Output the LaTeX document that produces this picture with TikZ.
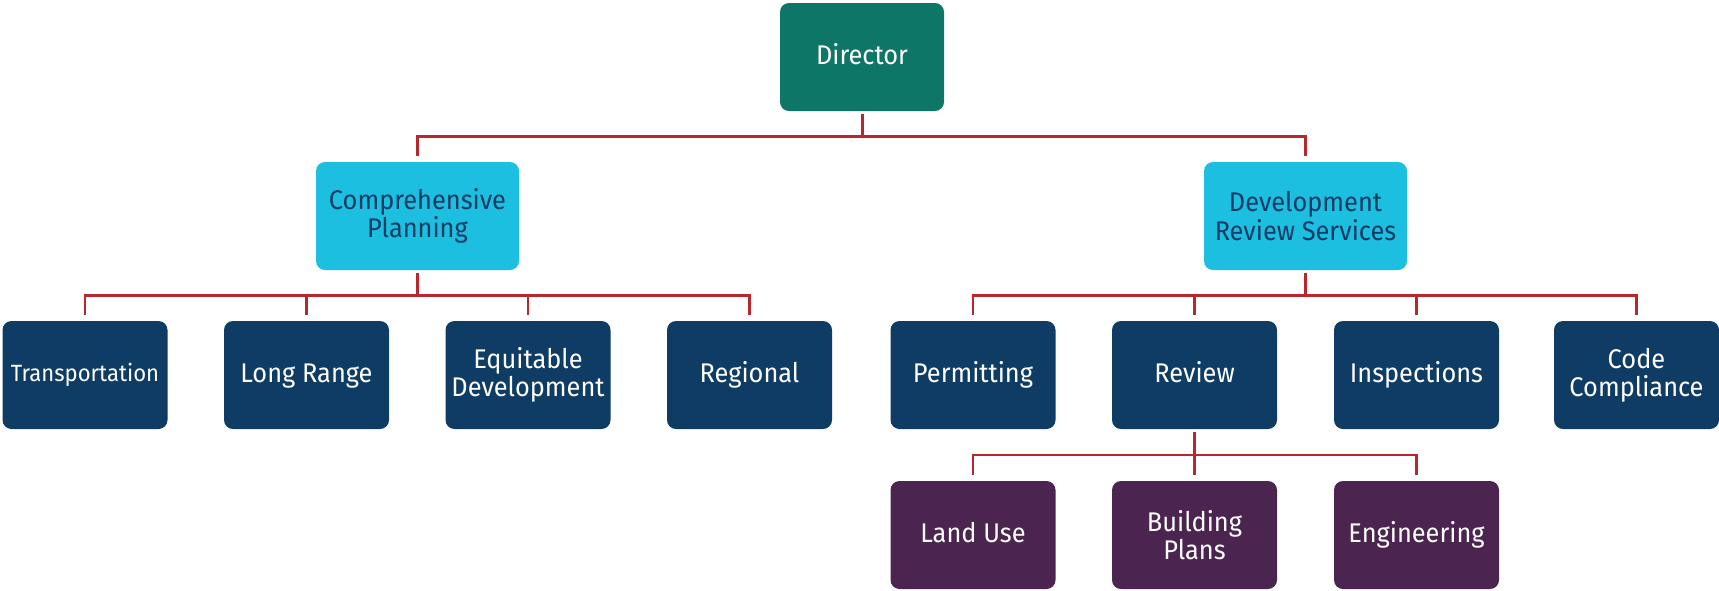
\documentclass[tikz,border=0pt]{standalone}
\usepackage{fontspec}
\setmainfont{Fira Sans}[FakeStretch=0.94]
\definecolor{teal1}{HTML}{0E7667}
\definecolor{cyan1}{HTML}{1CBFE0}
\definecolor{navy1}{HTML}{0E3C64}
\definecolor{purple1}{HTML}{4B2550}
\definecolor{red1}{HTML}{B7282E}
\tikzset{
  box/.style={rounded corners=9pt, minimum height=108pt, inner sep=0pt, align=center,
    font=\fontsize{27}{28.5}\selectfont},
  one/.style={text height=18.6pt, text depth=3.5pt},
  topbox/.style={box, fill=teal1, text=white, minimum width=164pt},
  midbox/.style={box, fill=cyan1, text=navy1, minimum width=203pt},
  unitbox/.style={box, fill=navy1, text=white, minimum width=165pt},
  subbox/.style={box, fill=purple1, text=white, minimum width=165pt},
  stem/.style={draw=red1, line width=3pt},
  link/.style={draw=red1, line width=2.2pt},
}
\begin{document}
\begin{tikzpicture}[x=1pt,y=-1pt]
\useasboundingbox (0,0) rectangle (1719,590);
% nodes
\node[topbox, one] (dir) at (862,57) {Director};
\node[midbox] (cp) at (417.5,216) {Comprehensive\\Planning};
\node[midbox] (dr) at (1305.5,216) {Development\\Review Services};
\node[unitbox, one, font=\fontsize{23.5}{26}\selectfont, text height=16.2pt] (tr) at (85,375) {Transportation};
\node[unitbox, one] (lr) at (306.5,375) {Long Range};
\node[unitbox] (eq) at (528,375) {Equitable\\Development};
\node[unitbox, one] (rg) at (749.5,375) {Regional};
\node[unitbox, one] (pm) at (973,375) {Permitting};
\node[unitbox, one] (rv) at (1194.5,375) {Review};
\node[unitbox, one] (in) at (1416.5,375) {Inspections};
\node[unitbox] (cc) at (1636.5,375) {Code\\Compliance};
\node[subbox, one] (lu) at (973,535) {Land Use};
\node[subbox] (bp) at (1194.5,535) {Building\\Plans};
\node[subbox, one] (en) at (1416.5,535) {Engineering};
% bar levels
\coordinate (bar1) at (0,136.5);
\coordinate (bar2) at (0,295.5);
\coordinate (bar3) at (0,455);
% Director -> level 2
\draw[link] ([yshift=6pt]cp.north) |- (dr.north |- bar1) -- ([yshift=6pt]dr.north);
\draw[stem] ([yshift=-3pt]dir.south) -- (dir.south |- bar1);
% Comprehensive Planning -> units
\draw[link] ([yshift=6pt]tr.north) |- (rg.north |- bar2) -- ([yshift=6pt]rg.north);
\draw[link] ([yshift=6pt]lr.north) -- (lr.north |- bar2);
\draw[link] ([yshift=6pt]eq.north) -- (eq.north |- bar2);
\draw[stem] ([yshift=-3pt]cp.south) -- (cp.south |- bar2);
% Development Review -> units
\draw[link] ([yshift=6pt]pm.north) |- (cc.north |- bar2) -- ([yshift=6pt]cc.north);
\draw[link] ([yshift=6pt]rv.north) -- (rv.north |- bar2);
\draw[link] ([yshift=6pt]in.north) -- (in.north |- bar2);
\draw[stem] ([yshift=-3pt]dr.south) -- (dr.south |- bar2);
% Review -> sub units
\draw[link] ([yshift=6pt]lu.north) |- (en.north |- bar3) -- ([yshift=6pt]en.north);
\draw[link] ([yshift=6pt]bp.north) -- (bp.north |- bar3);
\draw[stem] ([yshift=-3pt]rv.south) -- (rv.south |- bar3);
\end{tikzpicture}
\end{document}
